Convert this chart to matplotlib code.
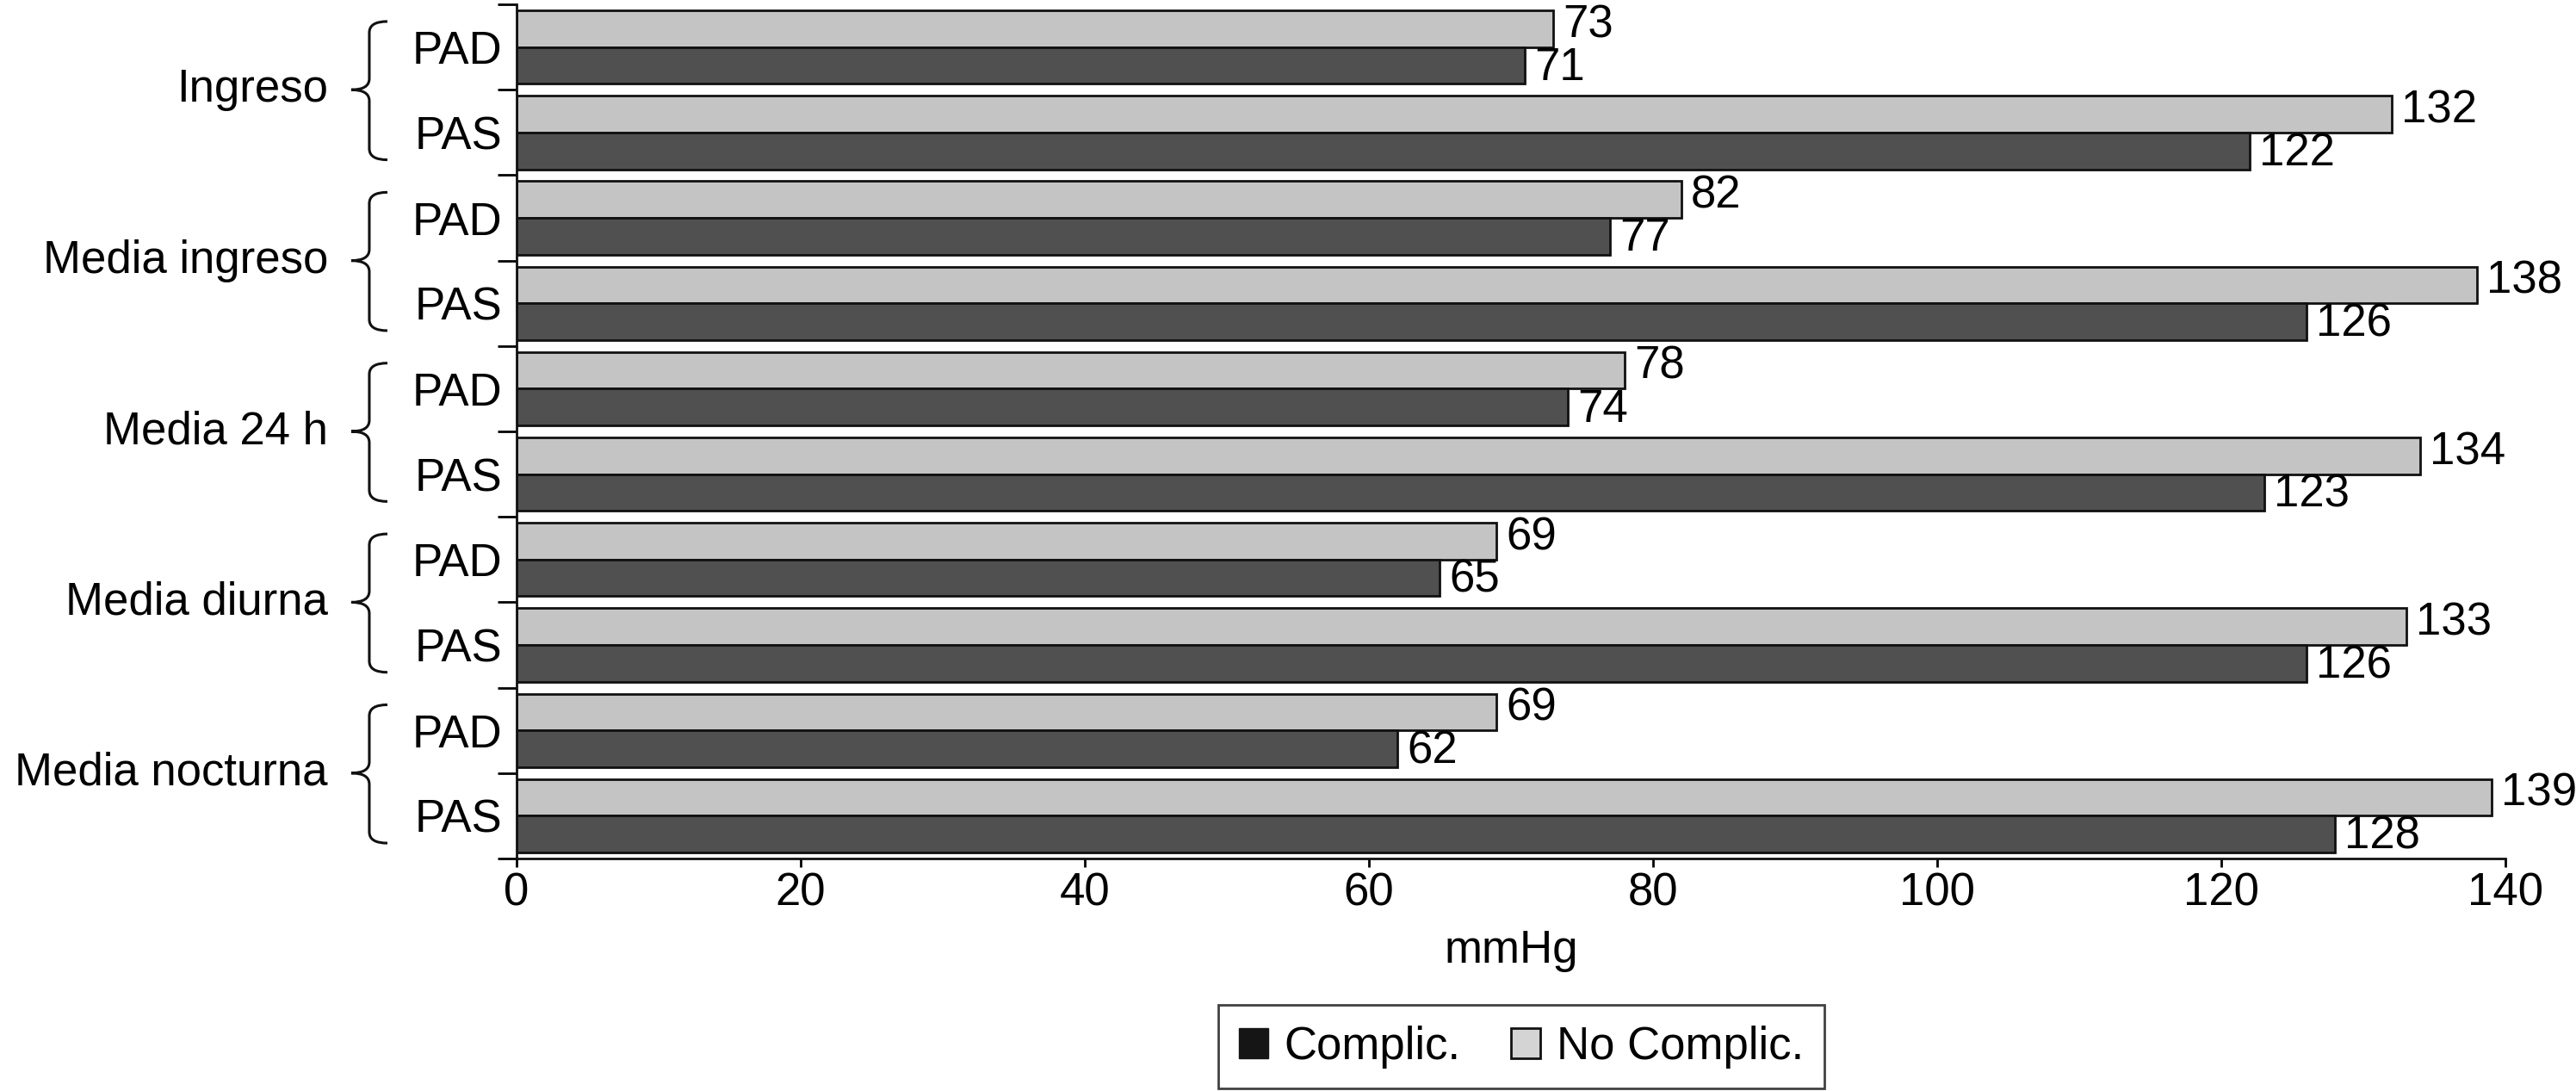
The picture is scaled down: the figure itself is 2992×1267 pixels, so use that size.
import matplotlib
matplotlib.use("Agg")
import matplotlib.pyplot as plt
from matplotlib.patches import Patch, PathPatch
from matplotlib.path import Path
import matplotlib.transforms as mtransforms

# data, top to bottom
groups = ["Ingreso", "Media ingreso", "Media 24 h", "Media diurna", "Media nocturna"]
measures = ["PAD", "PAS"]
no_complic = [73, 132, 82, 138, 78, 134, 69, 133, 69, 139]
complic = [71, 122, 77, 126, 74, 123, 65, 126, 62, 128]
xticks = [0, 20, 40, 60, 80, 100, 120, 140]

LIGHT = "#c4c4c4"
DARK = "#505050"
EDGE = "#111111"
FS = 38

plt.rcParams["font.family"] = ["Liberation Sans", "DejaVu Sans"]

fig = plt.figure(figsize=(29.92, 12.67), dpi=100)
ax = fig.add_axes([0.2005, 0.2131, 0.7721, 0.7829])

n = len(no_complic)
centers = [n - 0.5 - i for i in range(n)]
h = 0.43
off = 0.215

b_light = ax.barh([c + off for c in centers], no_complic, height=h,
                  color=LIGHT, edgecolor=EDGE, linewidth=2)
b_dark = ax.barh([c - off for c in centers], complic, height=h,
                 color=DARK, edgecolor=EDGE, linewidth=2)

# value labels, nudged slightly away from the pair's middle
for y, v in zip(centers, no_complic):
    ax.annotate(str(v), (v, y + off), xytext=(8, 3), textcoords="offset points",
                fontsize=FS, ha="left", va="center")
for y, v in zip(centers, complic):
    ax.annotate(str(v), (v, y - off), xytext=(8, -2), textcoords="offset points",
                fontsize=FS, ha="left", va="center")

ax.set_xlim(0, 140)
ax.set_ylim(0, n)
ax.set_xticks(xticks)
ax.set_xticklabels([str(t) for t in xticks], fontsize=FS)
ax.set_yticks(range(n + 1))
ax.set_yticklabels([])
ax.set_yticks(centers, minor=True)
ax.set_yticklabels(measures * len(groups), minor=True, fontsize=FS)

ax.tick_params(axis="y", which="major", direction="out", length=16, width=2)
ax.tick_params(axis="y", which="minor", length=0, pad=12)
ax.tick_params(axis="x", direction="out", length=7, width=2, pad=4)

for s in ["top", "right"]:
    ax.spines[s].set_visible(False)
for s in ["left", "bottom"]:
    ax.spines[s].set_linewidth(2)
    ax.spines[s].set_color(EDGE)

ax.set_xlabel("mmHg", fontsize=FS, labelpad=12)

# group labels with braces
trans = mtransforms.blended_transform_factory(ax.transAxes, ax.transData)
x_tip, x_stem, x_arm = -0.0831, -0.074, -0.0649
for g, name in enumerate(groups):
    yc = n - 1 - 2 * g
    yt, yb = yc + 0.80, yc - 0.82
    r = 0.13
    verts = [
        (x_arm, yt), (x_stem, yt), (x_stem, yt - r), (x_stem, yt - r),
        (x_stem, yc + r), (x_stem, yc), (x_tip, yc),
        (x_stem, yc), (x_stem, yc - r),
        (x_stem, yb + r),
        (x_stem, yb), (x_arm, yb),
    ]
    codes = [Path.MOVETO, Path.CURVE3, Path.CURVE3, Path.LINETO,
             Path.LINETO, Path.CURVE3, Path.CURVE3,
             Path.CURVE3, Path.CURVE3,
             Path.LINETO,
             Path.CURVE3, Path.CURVE3]
    ax.add_patch(PathPatch(Path(verts, codes), transform=trans, fill=False,
                           edgecolor=EDGE, linewidth=2.2, clip_on=False))
    ax.text(-0.0948, yc, name, transform=trans, fontsize=FS,
            ha="right", va="center")

handles = [Patch(facecolor="#151515", edgecolor="#151515", label="Complic."),
           Patch(facecolor="#d4d4d4", edgecolor=EDGE, linewidth=2, label="No Complic.")]
leg = fig.legend(handles=handles, loc="lower center", bbox_to_anchor=(0.5905, 0.002),
                 ncol=2, fontsize=FS, frameon=True, fancybox=False,
                 handlelength=0.65, handleheight=0.65, handletextpad=0.35,
                 columnspacing=1.1, borderpad=0.45, borderaxespad=0)
leg.get_frame().set_edgecolor(EDGE)
leg.get_frame().set_linewidth(2)

fig.savefig("out.png", dpi=100)
